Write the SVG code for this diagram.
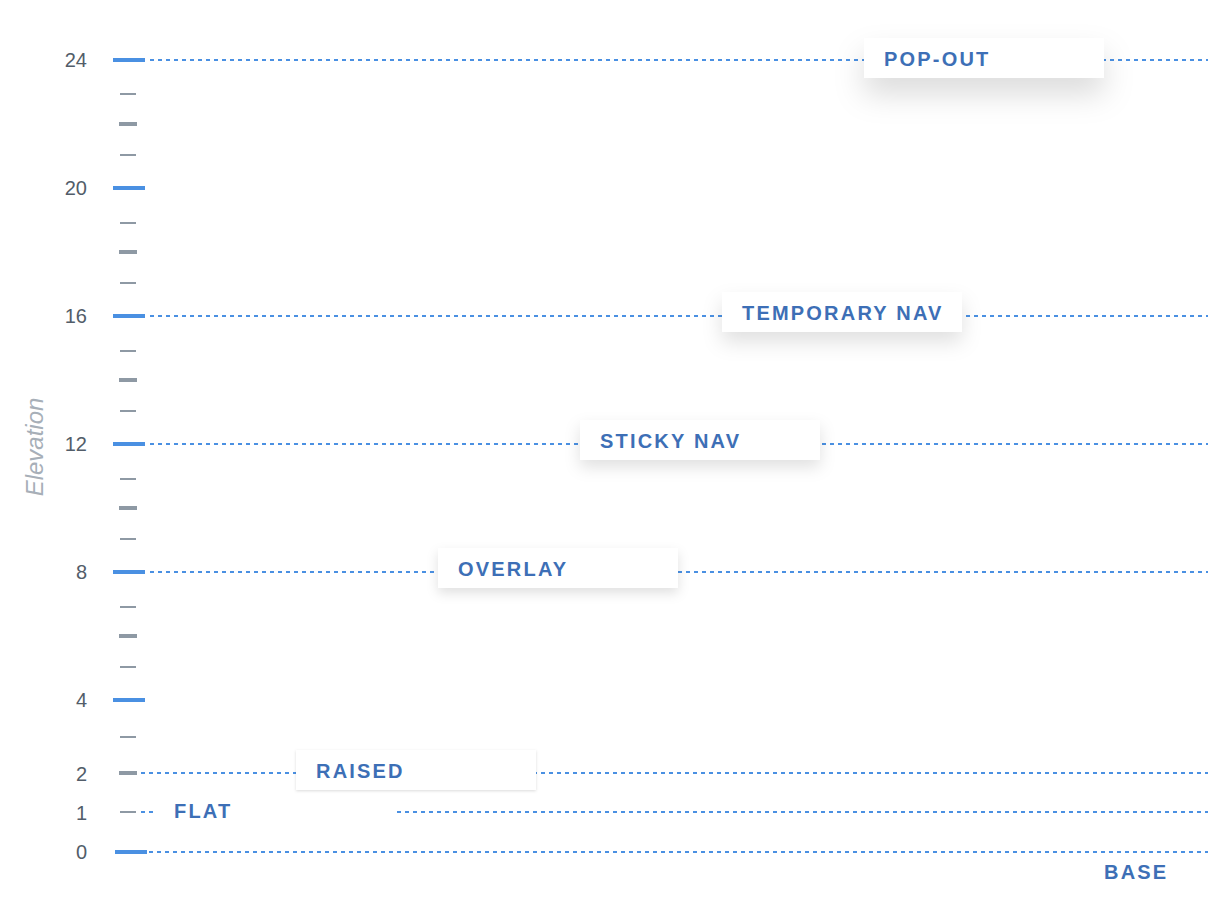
<svg xmlns="http://www.w3.org/2000/svg" width="1208" height="920" viewBox="0 0 1208 920">
  <style>
    .num { font-family: "Liberation Sans", Arial, sans-serif; font-size: 20px; fill: #525d69; text-anchor: end; }
    .lbl { font-family: "Liberation Sans", Arial, sans-serif; font-size: 20px; font-weight: bold; fill: #3d6fb6; letter-spacing: 2.2px; }
    .axis { font-family: "Liberation Sans", Arial, sans-serif; font-size: 24px; font-style: italic; fill: #a7afb8; text-anchor: middle; }
    .dash { stroke: #4a90e2; stroke-width: 2; stroke-dasharray: 4 4; fill: none; }
    .major { fill: #4a90e2; }
    .minor { fill: #8e99a4; }
    .box { fill: #ffffff; }
  </style>
  <defs>
    <filter id="sh1" x="-20%" y="-50%" width="140%" height="250%"><feDropShadow dx="0" dy="1" stdDeviation="1.5" flood-color="#000" flood-opacity="0.14"/></filter>
    <filter id="sh2" x="-20%" y="-50%" width="140%" height="250%"><feDropShadow dx="0" dy="5" stdDeviation="6" flood-color="#000" flood-opacity="0.12"/></filter>
    <filter id="sh3" x="-20%" y="-60%" width="140%" height="280%"><feDropShadow dx="0" dy="7" stdDeviation="8" flood-color="#000" flood-opacity="0.12"/></filter>
    <filter id="sh4" x="-25%" y="-70%" width="150%" height="320%"><feDropShadow dx="0" dy="10" stdDeviation="10" flood-color="#000" flood-opacity="0.12"/></filter>
    <filter id="sh5" x="-30%" y="-100%" width="160%" height="400%"><feDropShadow dx="0" dy="16" stdDeviation="15" flood-color="#000" flood-opacity="0.14"/></filter>
  </defs>
  <rect width="1208" height="920" fill="#ffffff"/>

  <g id="axis">
    <text class="axis" transform="translate(43,447) rotate(-90)">Elevation</text>
    <g id="ticks">
      <rect class="major" x="113" y="58" width="32" height="4"/>
      <rect class="minor" x="120" y="93" width="16" height="2"/>
      <rect class="minor" x="119" y="122" width="18" height="4"/>
      <rect class="minor" x="120" y="154" width="16" height="2"/>
      <rect class="major" x="113" y="186" width="32" height="4"/>
      <rect class="minor" x="120" y="222" width="16" height="2"/>
      <rect class="minor" x="119" y="250" width="18" height="4"/>
      <rect class="minor" x="120" y="282" width="16" height="2"/>
      <rect class="major" x="113" y="314" width="32" height="4"/>
      <rect class="minor" x="120" y="350" width="16" height="2"/>
      <rect class="minor" x="119" y="378" width="18" height="4"/>
      <rect class="minor" x="120" y="410" width="16" height="2"/>
      <rect class="major" x="113" y="442" width="32" height="4"/>
      <rect class="minor" x="120" y="478" width="16" height="2"/>
      <rect class="minor" x="119" y="506" width="18" height="4"/>
      <rect class="minor" x="120" y="538" width="16" height="2"/>
      <rect class="major" x="113" y="570" width="32" height="4"/>
      <rect class="minor" x="120" y="606" width="16" height="2"/>
      <rect class="minor" x="119" y="634" width="18" height="4"/>
      <rect class="minor" x="120" y="666" width="16" height="2"/>
      <rect class="major" x="113" y="698" width="32" height="4"/>
      <rect class="minor" x="120" y="736" width="16" height="2"/>
      <rect class="minor" x="119" y="771" width="18" height="4"/>
      <rect class="minor" x="120" y="811" width="16" height="2"/>
      <rect class="major" x="115" y="850" width="32" height="4"/>
    </g>
    <g id="numbers">
      <text class="num" x="87" y="67">24</text>
      <text class="num" x="87" y="195">20</text>
      <text class="num" x="87" y="323">16</text>
      <text class="num" x="87" y="451">12</text>
      <text class="num" x="87" y="579">8</text>
      <text class="num" x="87" y="707">4</text>
      <text class="num" x="87" y="781">2</text>
      <text class="num" x="87" y="820">1</text>
      <text class="num" x="87" y="859">0</text>
    </g>
  </g>

  <g id="connectors">
    <line class="dash" x1="150" y1="60" x2="1208" y2="60"/>
    <line class="dash" x1="150" y1="316" x2="1208" y2="316"/>
    <line class="dash" x1="150" y1="444" x2="1208" y2="444"/>
    <line class="dash" x1="150" y1="572" x2="1208" y2="572"/>
    <line class="dash" x1="141" y1="773" x2="1208" y2="773"/>
    <line class="dash" x1="141" y1="812" x2="1208" y2="812"/>
    <line class="dash" x1="149" y1="852" x2="1208" y2="852"/>
  </g>

  <g id="flat">
    <rect class="box" x="154" y="790" width="240" height="40"/>
    <text class="lbl" x="174" y="818">FLAT</text>
  </g>
  <g id="raised">
    <rect class="box" x="296" y="750" width="240" height="40" filter="url(#sh1)"/>
    <text class="lbl" x="316" y="778">RAISED</text>
  </g>
  <g id="overlay">
    <rect class="box" x="438" y="548" width="240" height="40" filter="url(#sh2)"/>
    <text class="lbl" x="458" y="576">OVERLAY</text>
  </g>
  <g id="sticky-nav">
    <rect class="box" x="580" y="420" width="240" height="40" filter="url(#sh3)"/>
    <text class="lbl" x="600" y="448">STICKY NAV</text>
  </g>
  <g id="temporary-nav">
    <rect class="box" x="722" y="292" width="240" height="40" filter="url(#sh4)"/>
    <text class="lbl" x="742" y="320">TEMPORARY NAV</text>
  </g>
  <g id="pop-out">
    <rect class="box" x="864" y="38" width="240" height="40" filter="url(#sh5)"/>
    <text class="lbl" x="884" y="66">POP-OUT</text>
  </g>
  <g id="base">
    <text class="lbl" x="1104" y="879">BASE</text>
  </g>
</svg>
